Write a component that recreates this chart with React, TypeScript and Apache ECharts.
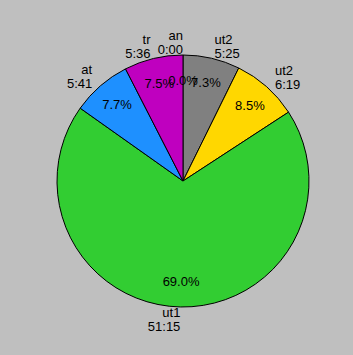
import React, { useEffect, useRef } from "react";
import * as echarts from "echarts";

const names = ["an", "ut2", "ut2", "ut1", "at", "tr"];
const times = ["0:00", "5:25", "6:19", "51:15", "5:41", "5:36"];
const colors = ["#ffffff", "#808080", "#ffd700", "#32cd32", "#1e90ff", "#bf00bf"];

const toSeconds = (t: string) => {
  const [m, s] = t.split(":").map(Number);
  return m * 60 + s;
};

export default function App() {
  const ref = useRef<HTMLDivElement>(null);
  useEffect(() => {
    if (!ref.current) return;
    const chart = echarts.init(ref.current, undefined, { renderer: "svg" });
    const values = times.map(toSeconds);
    const total = values.reduce((a, b) => a + b, 0);
    const cx = 183;
    const cy = 181;
    const R = 126;
    const mids: number[] = [];
    let cum = 0;
    values.forEach((v) => {
      mids.push(((cum + v / 2) / total) * Math.PI * 2);
      cum += v;
    });
    const pos = (i: number, d: number) => ({
      x: cx + d * R * Math.sin(mids[i]),
      y: cy - d * R * Math.cos(mids[i]),
    });
    const data = values.map((v, i) => ({
      name: names[i],
      value: v,
      itemStyle: { color: colors[i] },
    }));
    const font = {
      fontFamily: "Liberation Sans, Arial, sans-serif",
      fontSize: 13,
      color: "#000",
    };
    chart.setOption({
      animation: false,
      backgroundColor: "#bfbfbf",
      series: [
        {
          type: "pie",
          silent: true,
          center: [cx, cy],
          radius: [0, R],
          startAngle: 90,
          clockwise: true,
          itemStyle: { borderColor: "#000", borderWidth: 1 },
          emphasis: { disabled: true },
          labelLine: { show: false },
          label: {
            show: true,
            position: "inside",
            ...font,
            formatter: (p: any) => ((p.value / total) * 100).toFixed(1) + "%",
          },
          labelLayout: (p: any) => {
            const q = pos(p.dataIndex, 0.8);
            return { x: q.x, y: q.y, align: "center", verticalAlign: "middle" };
          },
          data,
        },
        {
          type: "pie",
          silent: true,
          center: [cx, cy],
          radius: [0, R],
          startAngle: 90,
          clockwise: true,
          itemStyle: { color: "transparent", borderWidth: 0 },
          emphasis: { disabled: true },
          labelLine: { show: false },
          label: {
            show: true,
            position: "inside",
            ...font,
            lineHeight: 14,
            formatter: (p: any) => names[p.dataIndex] + "\n" + times[p.dataIndex],
          },
          labelLayout: (p: any) => {
            const q = pos(p.dataIndex, 1.1);
            const right = Math.sin(mids[p.dataIndex]) > 1e-9;
            return {
              x: q.x,
              y: q.y,
              align: right ? "left" : "right",
              verticalAlign: "middle",
            };
          },
          data: values.map((v, i) => ({ name: names[i], value: v })),
        },
      ],
    });
    return () => chart.dispose();
  }, []);
  return (
    <div
      ref={ref}
      style={{ position: "fixed", left: 0, top: 0, width: 353, height: 355 }}
    />
  );
}
